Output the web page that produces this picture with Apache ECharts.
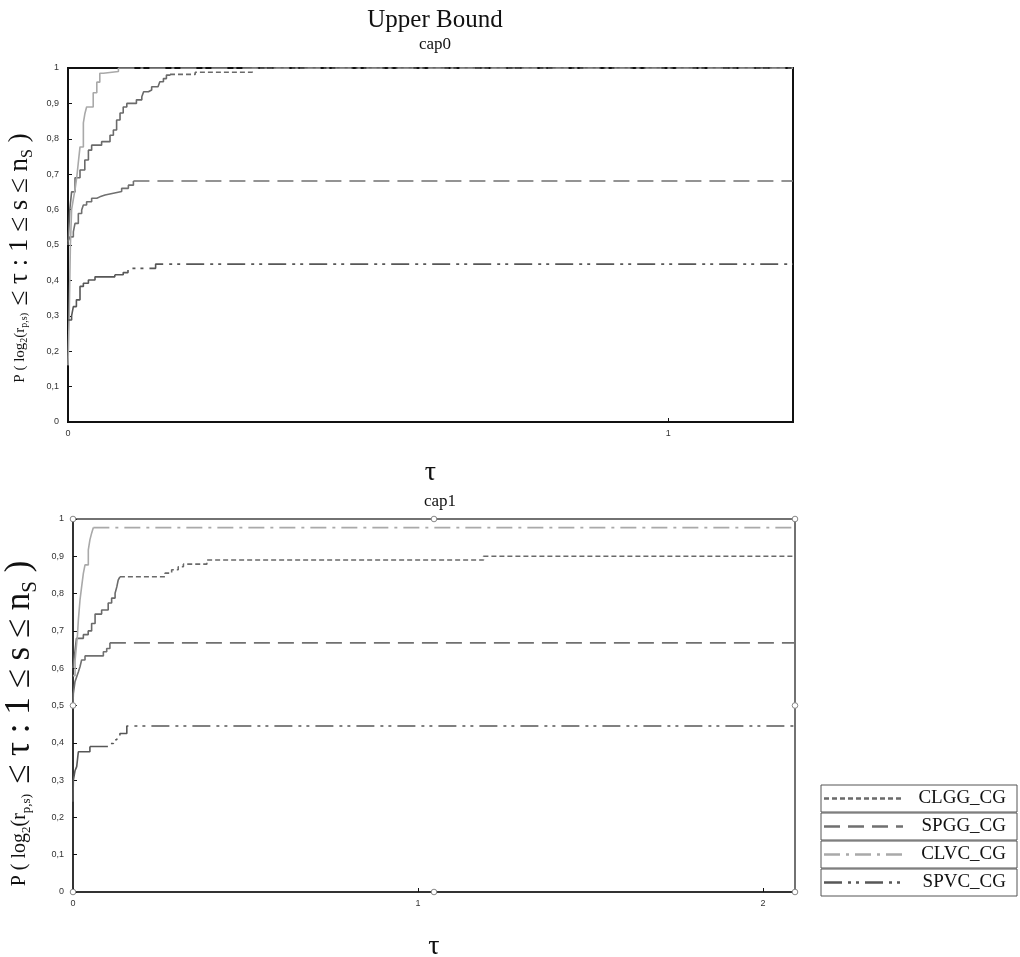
<!DOCTYPE html>
<html>
<head>
<meta charset="utf-8">
<script src="https://cdn.jsdelivr.net/npm/echarts@6/dist/echarts.min.js"></script>
<style>
  html, body { margin: 0; padding: 0; background: #fff; }
  #chart { width: 1020px; height: 957px; }
</style>
</head>
<body>
<div id="chart"></div>
<script>
// Performance profiles: P(log2(r_p,s) <= tau), step curves [tau, fraction]
const seriesNames = ['CLGG_CG', 'SPGG_CG', 'CLVC_CG', 'SPVC_CG'];

// cap0
const cap0_CLGG = [[0,0.5],[0.003,0.6],[0.006,0.65],[0.0117,0.69],[0.02,0.712],[0.028,0.74],[0.034,0.768],[0.0394,0.782],[0.056,0.792],[0.07,0.81],[0.0756,0.825],[0.081,0.853],[0.0867,0.873],[0.092,0.89],[0.098,0.9],[0.114,0.91],[0.123,0.919],[0.126,0.933],[0.134,0.938],[0.1394,0.947],[0.15,0.952],[0.153,0.961],[0.159,0.97],[0.164,0.98],[0.17,0.982],[0.212,0.988],[0.307,1],[1.208,1]];
const cap0_SPGG = [[0,0.51],[0.0033,0.523],[0.0089,0.537],[0.0117,0.561],[0.0172,0.589],[0.0228,0.599],[0.0256,0.613],[0.031,0.622],[0.0394,0.632],[0.048,0.636],[0.053,0.641],[0.0617,0.646],[0.0756,0.651],[0.0894,0.66],[0.1006,0.669],[0.109,0.681],[1.208,0.681]];
const cap0_CLVC = [[0,0.16],[0.002,0.3],[0.004,0.5],[0.006,0.6],[0.009,0.63],[0.012,0.66],[0.0145,0.69],[0.017,0.73],[0.02,0.777],[0.0256,0.845],[0.028,0.87],[0.031,0.89],[0.042,0.93],[0.048,0.96],[0.053,0.985],[0.059,0.99],[0.084,1],[1.208,1]];
const cap0_SPVC = [[0,0.288],[0.006,0.3],[0.0089,0.326],[0.014,0.345],[0.02,0.383],[0.0256,0.392],[0.034,0.401],[0.045,0.41],[0.078,0.416],[0.092,0.422],[0.1,0.434],[0.146,0.446],[1.208,0.446]];

// cap1
const cap1_CLGG = [[0,0.6],[0.005,0.64],[0.01,0.68],[0.03,0.69],[0.044,0.7],[0.054,0.72],[0.064,0.745],[0.083,0.756],[0.102,0.775],[0.112,0.788],[0.122,0.801],[0.127,0.818],[0.131,0.836],[0.136,0.845],[0.267,0.855],[0.286,0.864],[0.305,0.872],[0.32,0.879],[0.388,0.89],[1.19,0.9],[2.093,0.9]];
const cap1_SPGG = [[0,0.5],[0.001,0.532],[0.0058,0.564],[0.0107,0.577],[0.0155,0.59],[0.0203,0.604],[0.025,0.622],[0.0348,0.633],[0.088,0.644],[0.0977,0.653],[0.107,0.668],[2.093,0.668]];
const cap1_CLVC = [[0,0.58],[0.006,0.62],[0.01,0.66],[0.013,0.69],[0.0155,0.729],[0.0203,0.783],[0.025,0.818],[0.03,0.854],[0.0348,0.877],[0.0444,0.917],[0.049,0.944],[0.054,0.962],[0.059,0.977],[2.093,0.977]];
const cap1_SPVC = [[0,0.242],[0.001,0.3],[0.0058,0.325],[0.0107,0.336],[0.0155,0.376],[0.049,0.39],[0.107,0.398],[0.117,0.408],[0.127,0.417],[0.136,0.425],[0.156,0.445],[2.093,0.445]];

// Axis ranges
const xMax0 = 1.208, xMax1 = 2.093;

// Line styles per solver
const styles = {
  CLGG_CG: { color: '#6a6a6a', dash: [5, 3] },
  SPGG_CG: { color: '#707070', dash: [16, 8] },
  CLVC_CG: { color: '#a9a9a9', dash: [16, 6, 3, 6] },
  SPVC_CG: { color: '#575757', dash: [18, 6, 3, 5, 3, 6] }
};

const serif = '"Liberation Serif", "Times New Roman", serif';
const sans = '"Liberation Sans", Arial, sans-serif';

const G0 = { left: 68, top: 68, width: 725, height: 354 };
const G1 = { left: 73, top: 519, width: 722, height: 373 };

// Rising part drawn solid, long flat tail drawn with the solver's dash pattern
function curveSeries(gridIndex, name, pts, tailFrom) {
  const st = styles[name];
  const k = pts.findIndex(p => p[0] >= tailFrom);
  const head = pts.slice(0, k + 1);
  const tail = pts.slice(k);
  const base = {
    type: 'line', name: name, step: 'end', showSymbol: false, symbol: 'none',
    xAxisIndex: gridIndex, yAxisIndex: gridIndex, silent: true, animation: false
  };
  return [
    Object.assign({}, base, { data: head, lineStyle: { color: st.color, width: 1.6, type: 'solid' } }),
    Object.assign({}, base, { data: tail, lineStyle: { color: st.color, width: 1.6, type: st.dash } })
  ];
}

function yFmt(v) {
  if (Math.abs(v) < 1e-9) return '0';
  if (Math.abs(v - 1) < 1e-9) return '1';
  return v.toFixed(1).replace('.', ',');
}

// Vertical axis title with subscripts; k scales the whole title
const yName = '{s|P ( log}{sub|2}{s|(r}{sub|p,s)}{s|  }{b|≤ τ : 1 ≤ s ≤ n}{sub2|S}{end| )}';
function yNameRich(k, shift) {
  const lh = Math.round(32 * k);
  return {
    s: { fontFamily: serif, fontSize: Math.round(15 * k), color: '#111', lineHeight: lh, verticalAlign: 'middle' },
    sub: { fontFamily: serif, fontSize: Math.round(10 * k), color: '#111', lineHeight: lh, verticalAlign: 'bottom', padding: [0, 0, Math.round(6 * k), 0] },
    b: { fontFamily: serif, fontSize: Math.round(27 * k), color: '#111', lineHeight: lh, verticalAlign: 'middle' },
    sub2: { fontFamily: serif, fontSize: Math.round(16 * k), color: '#111', lineHeight: lh, verticalAlign: 'bottom' },
    end: { fontFamily: serif, fontSize: Math.round(27 * k), color: '#111', lineHeight: lh, verticalAlign: 'middle', padding: [0, shift, 0, 0] }
  };
}

function xAxisCfg(gridIndex, max, lineColor) {
  return {
    type: 'value', gridIndex: gridIndex, min: 0, max: max, interval: 1,
    name: 'τ', nameLocation: 'middle', nameGap: gridIndex === 0 ? 37 : 41,
    nameTextStyle: { fontFamily: serif, fontSize: 28, color: '#111' },
    axisLine: { show: true, onZero: false, lineStyle: { color: lineColor, width: 2 } },
    axisTick: { show: true, inside: true, length: 4, lineStyle: { color: '#111' } },
    axisLabel: { fontFamily: sans, fontSize: 9, color: '#333', margin: 7, showMaxLabel: false,
      formatter: v => String(v) },
    splitLine: { show: false }
  };
}

function yAxisCfg(gridIndex, lineColor, gap, rich) {
  return {
    type: 'value', gridIndex: gridIndex, min: 0, max: 1, interval: 0.1,
    name: yName, nameLocation: 'middle', nameRotate: 90, nameGap: gap,
    nameTextStyle: { rich: rich },
    axisLine: { show: true, onZero: false, lineStyle: { color: lineColor, width: 2 } },
    axisTick: { show: true, inside: true, length: 4, lineStyle: { color: '#111' } },
    axisLabel: { fontFamily: sans, fontSize: 9, color: '#333', margin: 9, formatter: yFmt },
    splitLine: { show: false }
  };
}

const series = [].concat(
  curveSeries(0, 'CLGG_CG', cap0_CLGG, 0.17),
  curveSeries(0, 'SPGG_CG', cap0_SPGG, 0.109),
  curveSeries(0, 'CLVC_CG', cap0_CLVC, 0.084),
  curveSeries(0, 'SPVC_CG', cap0_SPVC, 0.078),
  curveSeries(1, 'CLGG_CG', cap1_CLGG, 0.136),
  curveSeries(1, 'SPGG_CG', cap1_SPGG, 0.107),
  curveSeries(1, 'CLVC_CG', cap1_CLVC, 0.059),
  curveSeries(1, 'SPVC_CG', cap1_SPVC, 0.049)
);

// Boxed legend in the lower right corner
const legendBox = { x: 821, y: 785, w: 196, h: 27, gap: 1 };
const legendGraphics = [];
seriesNames.forEach((name, i) => {
  const y = legendBox.y + i * (legendBox.h + legendBox.gap);
  const st = styles[name];
  legendGraphics.push({
    type: 'rect', shape: { x: legendBox.x, y: y, width: legendBox.w, height: legendBox.h },
    style: { fill: '#fff', stroke: '#555', lineWidth: 1 }, silent: true
  });
  legendGraphics.push({
    type: 'line', shape: { x1: legendBox.x + 3, y1: y + legendBox.h / 2, x2: legendBox.x + 82, y2: y + legendBox.h / 2 },
    style: { stroke: st.color, lineWidth: 2.5, lineDash: st.dash }, silent: true
  });
  legendGraphics.push({
    type: 'text', x: legendBox.x + legendBox.w - 11, y: y + legendBox.h / 2,
    style: { text: name, fontFamily: serif, fontSize: 19, fill: '#111', align: 'right', verticalAlign: 'middle' },
    silent: true
  });
});

// Small round handles around the lower plot frame
const handles = [];
[[0, 0], [0.5, 0], [1, 0], [1, 0.5], [1, 1], [0.5, 1], [0, 1], [0, 0.5]].forEach(p => {
  handles.push({
    type: 'circle',
    shape: { cx: G1.left + p[0] * G1.width, cy: G1.top + p[1] * G1.height, r: 2.8 },
    style: { fill: '#fff', stroke: '#888', lineWidth: 1 }, silent: true, z: 100
  });
});

const chart = echarts.init(document.getElementById('chart'), null, { renderer: 'canvas' });
chart.setOption({
  backgroundColor: '#fff',
  animation: false,
  title: [
    { text: 'Upper Bound', left: 430, top: 3, textAlign: 'center',
      textStyle: { fontFamily: serif, fontSize: 25, fontWeight: 'normal', color: '#111' } },
    { text: 'cap0', left: 430, top: 31, textAlign: 'center',
      textStyle: { fontFamily: serif, fontSize: 17, fontWeight: 'normal', color: '#111' } },
    { text: 'cap1', left: 435, top: 488, textAlign: 'center',
      textStyle: { fontFamily: serif, fontSize: 17, fontWeight: 'normal', color: '#111' } }
  ],
  grid: [
    Object.assign({ show: true, borderColor: '#111', borderWidth: 2, backgroundColor: 'transparent',
      containLabel: false, outerBoundsMode: 'none' }, G0),
    Object.assign({ show: true, borderColor: '#444', borderWidth: 1.5, backgroundColor: 'transparent',
      containLabel: false, outerBoundsMode: 'none' }, G1)
  ],
  xAxis: [xAxisCfg(0, xMax0, '#111'), xAxisCfg(1, xMax1, '#333')],
  yAxis: [yAxisCfg(0, '#111', 28, yNameRich(1, 26)), yAxisCfg(1, '#333', 21, yNameRich(1.3, 36))],
  series: series,
  graphic: legendGraphics.concat(handles)
});
</script>
</body>
</html>
